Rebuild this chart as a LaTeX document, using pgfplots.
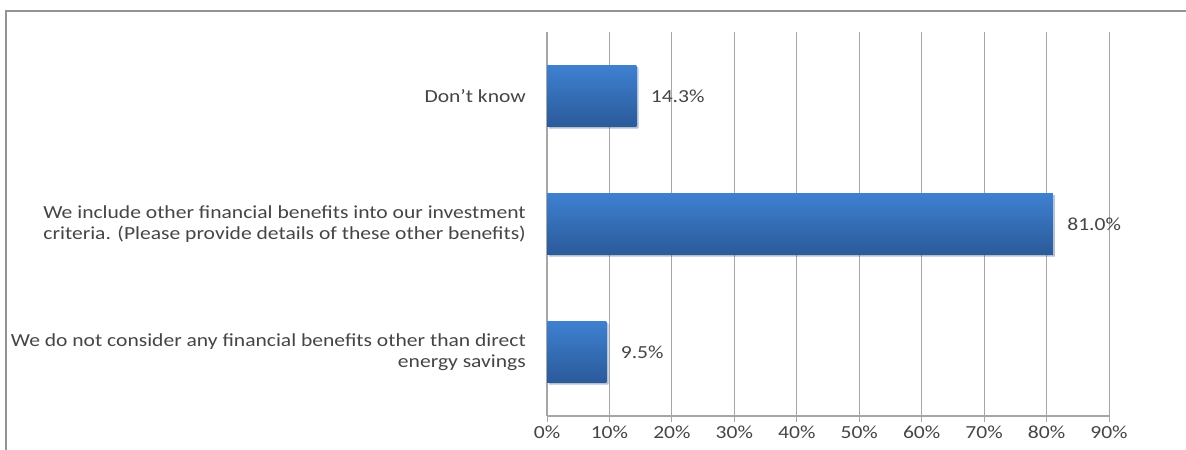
\documentclass[border=0pt]{standalone}
\usepackage{fontspec}
\setmainfont[FakeStretch=1.17]{Carlito}
\usepackage{pgfplots}
\pgfplotsset{compat=1.18}
\usetikzlibrary{shadows}
\definecolor{txt}{HTML}{454545}
\definecolor{gridc}{HTML}{A6A6A6}
\definecolor{bartop}{HTML}{3F80D0}
\definecolor{barbot}{HTML}{2A5A9A}
\pgfplotsset{mybar/.style={xbar, bar width=61bp, bar shift=0pt, draw=none,
  top color=bartop, bottom color=barbot,
  drop shadow={opacity=0.25, shadow xshift=2bp, shadow yshift=-2bp},
  nodes near coords={\pgfmathprintnumber[fixed,fixed zerofill,precision=1]{\pgfplotspointmeta}\%},
  nodes near coords style={font=\fontsize{18.5}{21}\selectfont, text=txt, anchor=west, xshift=11bp, /pgf/number format/assume math mode=true},
  point meta=explicit symbolic}}
\begin{document}
\begin{tikzpicture}[x=1bp,y=1bp]
\path[use as bounding box] (0,0) rectangle (1186,450);
\draw[color=gray!85, line width=2bp] (6,0) -- (6,439) -- (1186,439);
\begin{axis}[
  at={(547bp,34bp)}, anchor=south west,
  scale only axis, width=562bp, height=384bp,
  xmin=0, xmax=90, ymin=-0.5, ymax=2.5,
  axis x line*=bottom, axis y line*=left,
  axis line style={gridc, line width=1.2bp},
  xtick={0,10,...,90},
  xticklabel={\pgfmathprintnumber{\tick}\%},
  xmajorgrids, major grid style={gridc, line width=1bp},
  ytick={0,1,2},
  yticklabels={{We do not consider any financial benefits other than direct\\energy savings},
               {We include other financial benefits into our investment\\criteria. (Please provide details of these other benefits)},
               {Don't know}},
  minor ytick={-0.5,0.5,1.5,2.5},
  tick align=outside,
  major tick length=6bp, minor tick length=6bp,
  ytick style={draw=none},
  minor tick style={gridc, line width=1bp},
  xtick style={gridc, line width=1bp},
  yticklabel style={align=right, font=\fontsize{18.5}{21}\selectfont, text=txt, inner sep=0pt, xshift=-15bp},
  xticklabel style={font=\fontsize{18.5}{21}\selectfont, text=txt},
  /pgf/number format/assume math mode=true,
  clip=false,
]
\addplot[mybar] coordinates {(9.5,0) [9.5]};
\addplot[mybar] coordinates {(81.0,1) [81.0]};
\addplot[mybar] coordinates {(14.3,2) [14.3]};
\end{axis}
\end{tikzpicture}
\end{document}
